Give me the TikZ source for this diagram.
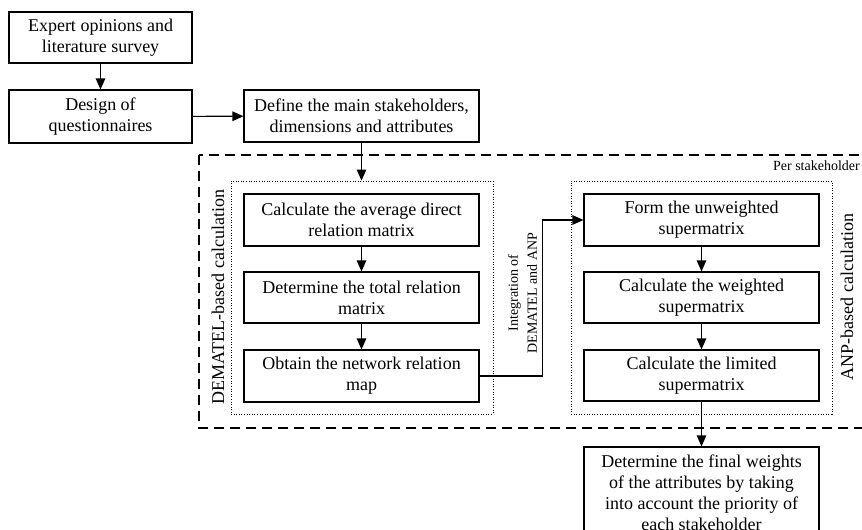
\documentclass[tikz,border=0pt]{standalone}
\usepackage{fontspec}
\setmainfont{Liberation Serif}
\usetikzlibrary{arrows.meta}
\begin{document}
\begin{tikzpicture}[x=1pt,y=-1pt,
  box/.style={draw,line width=1.1pt,align=center,inner sep=0pt,minimum width=235pt,font=\fontsize{18}{21}\selectfont},
  arr/.style={-{Triangle[length=11pt,width=9.5pt]},line width=1.1pt},
  dotbox/.style={draw,line width=0.9pt,dash pattern=on 1pt off 1.6pt,inner sep=0pt},
  dashbox/.style={draw,line width=1.1pt,dash pattern=on 10pt off 6pt},
  sidelabel/.style={rotate=90,inner sep=0pt,font=\fontsize{18}{21}\selectfont},
  small/.style={inner sep=0pt,font=\fontsize{14}{19}\selectfont}]
\useasboundingbox (0,0) rectangle (862,530);
\clip (0,0) rectangle (862,530);

\node[box,minimum width=183pt,minimum height=51pt] (n1) at (100.5,37.5) {Expert opinions and\\literature survey};
\node[box,minimum width=183pt,minimum height=53pt] (n2) at (100.5,116.5) {Design of\\questionnaires};
\node[box,minimum height=52pt] (n3) at (361.5,116) {Define the main stakeholders,\\dimensions and attributes};

\draw[dashbox] (199,155) rectangle (880,428);
\node[small,anchor=east] (ps) at (860,166) {Per stakeholder};

\node[dotbox,minimum width=262pt,minimum height=233pt] (dem) at (362,297.5) {};
\node[dotbox,minimum width=261pt,minimum height=233pt] (anp) at (701.5,297.5) {};

\node[box,minimum height=52pt] (A) at (361.5,220) {Calculate the average direct\\relation matrix};
\node[box,minimum height=51pt] (B) at (361.5,297.5) {Determine the total relation\\matrix};
\node[box,minimum height=52pt] (C) at (361.5,376) {Obtain the network relation\\map};

\node[box,minimum height=52pt] (D) at (701.5,220) {Form the unweighted\\supermatrix};
\node[box,minimum height=51pt] (E) at (701.5,297.5) {Calculate the weighted\\supermatrix};
\node[box,minimum height=51pt] (F) at (701.5,375.5) {Calculate the limited\\supermatrix};

\node[box,minimum height=92pt] (G) at (701.5,493) {Determine the final weights\\of the attributes by taking\\into account the priority of\\each stakeholder};

\node[sidelabel] (dl) at (218,297) {DEMATEL-based calculation};
\node[sidelabel] (al) at (847,297) {ANP-based calculation};
\node[small,rotate=90,align=center] (int) at (522.5,293) {Integration of\\DEMATEL and ANP};

\draw[arr] (n1) -- (n2);
\draw[arr] (n2) -- (n3);
\draw[arr] (n3.south) -- (n3.south |- dem.north);
\draw[arr] (A) -- (B);
\draw[arr] (B) -- (C);
\draw[arr] (C.east) -- ++(63,0) |- (D.west);
\draw[arr] (D) -- (E);
\draw[arr] (E) -- (F);
\draw[arr] (F) -- (G);
\end{tikzpicture}
\end{document}
